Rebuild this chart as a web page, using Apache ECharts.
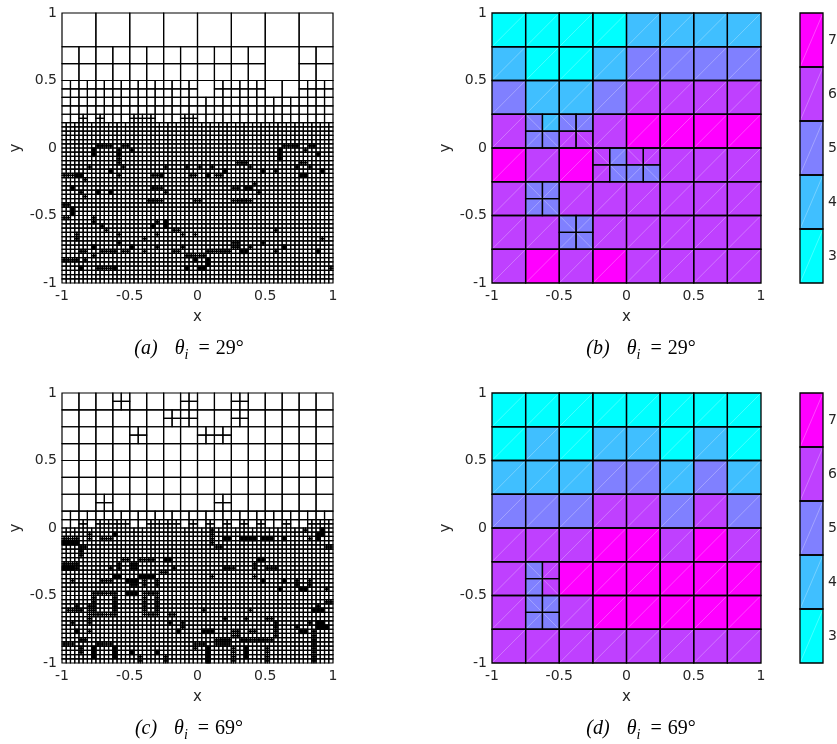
<!DOCTYPE html>
<html><head><meta charset="utf-8">
<script src="https://cdn.jsdelivr.net/npm/echarts@6/dist/echarts.min.js"></script>
<style>html,body{margin:0;padding:0;background:#fff}#c{width:837px;height:744px}</style>
</head><body><div id="c"></div>
<script>
// ---------- data ----------
const axisRange = [-1, 1];
const axisStep = 0.5;
const levels = ['3', '4', '5', '6', '7'];
const levelColors = ['#00FFFF', '#40BFFF', '#8080FF', '#BF40FF', '#FF00FF'];
const captionLetters = ['(a)', '(b)', '(c)', '(d)'];
const captionAngles = ['29°', '29°', '69°', '69°'];

// Panel (a) mesh: horizontal bands [yBottom, yTop, cellSize]
const bandsA = [[0.75, 1, 0.25], [0.5, 0.75, 0.125], [0.1875, 0.5, 0.0625], [-1, 0.1875, 0.03125]];
// merged (coarser) cells [x0, y0, size]
const mergedA = [[0.5, 0.5, 0.25], [0, 0.375, 0.125], [0.5, 0.375, 0.125], [0.625, 0.375, 0.125]];
// band cells split once [x0, y0, size]
const splitA = [[-0.875, 0.1875, 0.0625], [-0.75, 0.1875, 0.0625], [-0.5, 0.1875, 0.0625], [-0.4375, 0.1875, 0.0625],
  [-0.375, 0.1875, 0.0625], [-0.125, 0.1875, 0.0625], [-0.0625, 0.1875, 0.0625]];
// fine 1/32 cells refined once [col, row] (col 0..63 from x=-1, row from y=-1)
const fineA = [[8,32],[9,32],[10,32],[11,32],[13,28],[13,29],[13,31],[14,32],[15,32],[16,31],[6,27],[13,25],[0,25],[1,25],[2,25],[5,24],[14,27],[21,25],[22,25],[24,27],[29,27],[30,25],[31,25],[4,21],[5,20],[21,22],[22,22],[23,22],[20,19],[21,19],[22,19],[23,19],[24,21],[0,18],[1,18],[0,15],[1,15],[7,14],[7,15],[9,13],[10,12],[3,11],[3,10],[13,11],[19,10],[22,14],[22,11],[26,12],[27,12],[28,11],[31,11],[4,7],[5,7],[7,6],[9,7],[10,7],[11,7],[12,7],[13,9],[14,7],[15,7],[19,7],[22,8],[26,7],[27,7],[28,8],[29,6],[30,6],[31,6],[0,5],[1,5],[2,5],[3,5],[5,5],[8,3],[9,3],[10,3],[11,3],
  [52,32],[53,32],[54,32],[55,32],[57,31],[58,32],[59,32],[56,28],[57,28],[55,27],[58,27],[41,28],[42,28],[43,28],[32,27],[35,27],[36,25],[37,25],[44,27],[50,26],[40,22],[41,22],[45,23],[46,21],[40,19],[41,19],[42,19],[43,19],[44,19],[31,19],[32,19],[50,12],[40,8],[41,8],[40,9],[41,9],[47,9],[34,7],[35,7],[36,7],[37,7],[38,7],[39,7],[44,8],[50,7],[61,10],[32,6],[33,6],[63,3]];
// fine cells refined twice
const finerA = [[7,30],[7,31],[13,30],[11,26],[3,25],[4,25],[23,25],[2,22],[8,21],[11,21],[2,16],[2,17],[21,13],[24,13],[24,14],[7,8],[16,8],[4,3],[12,3],[29,3],[31,5],[51,29],[51,30],[51,31],[60,30],[56,25],[57,25],[61,26],[34,25],[38,26],[47,26],[43,22],[44,22],[52,8],[42,7],[43,7],[60,7],[34,4],[34,5],[32,3],[33,3]];

// Panel (c) mesh
const bandsC = [[0.125, 1, 0.125], [0, 0.125, 0.0625], [-1, 0, 0.03125]];
const mergedC = [];
const splitC = [[-0.625,0.875,0.125],[-0.125,0.875,0.125],[0.25,0.875,0.125],[-0.25,0.75,0.125],[-0.125,0.75,0.125],[0.25,0.75,0.125],
  [-0.5,0.625,0.125],[0,0.625,0.125],[0.125,0.625,0.125],[-0.75,0.125,0.125],[0.125,0.125,0.125],
  [-0.875,0,0.0625],[-0.75,0,0.0625],[-0.6875,0,0.0625],[-0.625,0,0.0625],[-0.5625,0,0.0625],[-0.375,0,0.0625],[-0.3125,0,0.0625],
  [-0.25,0,0.0625],[-0.1875,0,0.0625],[-0.0625,0,0.0625],[0.0625,0,0.0625],[0.1875,0,0.0625],[0.3125,0,0.0625],[0.4375,0,0.0625],
  [0.625,0,0.0625],[0.8125,0,0.0625],[0.875,0,0.0625],[0.9375,0,0.0625]];
const fineC = [[35,28],[35,29],[35,30],[35,31],[36,27],[37,27],[57,31],[58,29],[62,27],[63,27],[38,22],[39,22],[40,22],[45,22],[45,23],[48,22],[49,22],[50,22],[35,20],[45,20],[55,18],[55,19],[58,18],[58,19],[62,17],[62,14],[63,14],[33,12],[44,12],[60,13],[38,10],[43,10],[48,10],[49,10],[50,6],[50,7],[50,8],[50,9],[58,9],[55,8],[40,6],[40,7],[41,6],[41,7],[44,7],[45,7],[59,4],[59,5],[59,6],[59,7],[32,4],[33,4],[36,4],[37,4],[38,4],[39,4],[36,5],[37,5],[38,5],[39,5],[42,5],[43,5],[44,5],[45,5],[46,5],[47,5],[48,5],[49,5],[40,0],[40,1],[40,2],[40,3],[48,0],[48,1],[48,2],[48,3],[59,0],[59,1],[59,2],[59,3],
  [0,29],[1,29],[2,29],[3,29],[6,29],[6,30],[9,29],[10,29],[11,29],[4,27],[5,27],[4,25],[4,26],[14,24],[15,24],[18,24],[19,24],[20,24],[21,24],[0,23],[1,23],[2,23],[3,23],[3,22],[11,22],[13,22],[13,23],[16,22],[17,22],[16,23],[17,23],[23,21],[24,21],[26,22],[2,19],[9,19],[10,19],[11,19],[19,18],[19,19],[22,18],[22,19],[16,18],[17,18],
  [7,16],[8,16],[9,16],[10,16],[11,16],[12,16],[7,11],[8,11],[9,11],[10,11],[11,11],[12,11],[7,12],[7,13],[7,14],[7,15],[12,12],[12,13],[12,14],[12,15],
  [19,16],[20,16],[21,16],[22,16],[19,11],[20,11],[21,11],[22,11],[19,12],[19,13],[19,14],[19,15],[22,12],[22,13],[22,14],[22,15],
  [3,13],[1,12],[2,12],[3,12],[4,12],[6,11],[6,12],[6,13],[2,9],[6,9],[6,10],[6,7],[4,5],[5,5],[0,4],[1,4],[2,4],[8,4],[9,4],[10,4],[11,4],[4,2],[4,3],[18,0],[18,1],[24,0],[24,1],[25,11],[26,11],[25,9],[28,8],[28,9],[31,3],[31,4]];
const finerC = [[0,28],[1,28],[2,28],[3,28],[12,30],[24,24],[25,24],[0,22],[1,22],[2,22],[12,20],[13,20],[18,20],[19,20],[20,20],[21,20],[15,19],[16,19],[17,19],[15,16],[16,16],[17,16],[3,7],[7,1],[7,2],[7,3],[12,1],[12,2],[12,3],[16,2],[22,2],[27,7],[38,29],[39,29],[42,29],[43,29],[44,29],[45,29],[47,29],[48,29],[49,29],[52,29],[60,29],[60,30],[61,30],[61,31],[46,24],[47,24],[47,19],[52,19],[51,17],[56,17],[57,17],[59,12],[60,12],[61,12],[60,8],[61,8],[62,8],[60,9],[61,9],[33,7],[34,7],[35,7],[56,7],[57,7],[34,0],[34,1],[34,2],[34,3],[43,1],[43,2],[43,3]];

// Panel (b) values on 8x8 grid (rows top -> bottom, x from -1); 0 = refined cell
const gridB = [
  [3,3,3,3,4,4,4,4],
  [4,3,3,4,5,5,5,5],
  [5,4,4,5,6,6,6,6],
  [6,0,0,6,7,7,7,7],
  [7,6,7,0,0,6,6,6],
  [6,0,6,6,6,6,6,6],
  [6,6,0,6,6,6,6,6],
  [6,7,6,7,6,6,6,6]];
// refined cells [x0, y0, topLeft, topRight, bottomLeft, bottomRight]
const refinedB = [[-0.75,0,5,4,5,5],[-0.5,0,5,5,6,6],[-0.25,-0.25,6,5,6,5],[0,-0.25,6,6,5,5],[-0.75,-0.5,5,5,5,5],[-0.5,-0.75,5,5,5,5]];

// Panel (d)
const gridD = [
  [3,3,3,3,3,3,3,3],
  [3,4,3,4,4,3,4,3],
  [4,4,4,5,5,4,5,4],
  [5,5,5,6,6,5,6,5],
  [6,6,6,7,7,6,7,6],
  [6,0,7,7,7,7,7,7],
  [6,0,6,7,7,7,7,7],
  [6,6,6,6,6,6,6,6]];
const refinedD = [[-0.75,-0.5,5,6,5,6],[-0.75,-0.75,5,5,5,5]];

// ---------- builders ----------
function buildMesh(bands, merged, split, fine, finer) {
  const leaves = [];
  const eps = 1e-9;
  const key = (a, b) => a + ',' + b;
  const fineSet = new Set(fine.map(c => key(c[0], c[1])));
  const finerSet = new Set(finer.map(c => key(c[0], c[1])));
  const splitSet = new Set(split.map(c => c[0].toFixed(5) + ',' + c[1].toFixed(5) + ',' + c[2]));
  const inMerged = (x, y, s) => merged.some(m => x >= m[0] - eps && x + s <= m[0] + m[2] + eps && y >= m[1] - eps && y + s <= m[1] + m[2] + eps);
  function sub(x, y, s, d) {
    if (d <= 0) { leaves.push([x, y, s]); return; }
    const h = s / 2;
    sub(x, y, h, d - 1); sub(x + h, y, h, d - 1); sub(x, y + h, h, d - 1); sub(x + h, y + h, h, d - 1);
  }
  bands.forEach(([y0, y1, s]) => {
    const nx = Math.round(2 / s), ny = Math.round((y1 - y0) / s);
    for (let r = 0; r < ny; r++) for (let c = 0; c < nx; c++) {
      const x = -1 + c * s, y = y0 + r * s;
      if (inMerged(x, y, s)) continue;
      let d = 0;
      if (splitSet.has(x.toFixed(5) + ',' + y.toFixed(5) + ',' + s)) d = 1;
      const j = Math.round((y + 1) / s);
      if (fineSet.has(key(c, j)) && s < 0.04) d = 1;
      if (finerSet.has(key(c, j)) && s < 0.04) d = 2;
      sub(x, y, s, d);
    }
  });
  merged.forEach(m => leaves.push(m.slice()));
  return leaves;
}
function buildColored(grid, refined) {
  const items = [];
  const n = grid.length, s = 2 / n;
  grid.forEach((row, r) => row.forEach((v, c) => {
    if (v > 0) items.push([-1 + c * s, 1 - (r + 1) * s, s, v, 1]);
  }));
  refined.forEach(([x, y, tl, tr, bl, br]) => {
    const h = s / 2;
    items.push([x, y + h, h, tl, -1]);
    items.push([x + h, y + h, h, tr, 1]);
    items.push([x, y, h, bl, 1]);
    items.push([x + h, y, h, br, -1]);
  });
  return items;
}

const meshA = buildMesh(bandsA, mergedA, splitA, fineA, finerA);
const meshC = buildMesh(bandsC, mergedC, splitC, fineC, finerC);
const cellsB = buildColored(gridB, refinedB);
const cellsD = buildColored(gridD, refinedD);

// ---------- chart ----------
const chart = echarts.init(document.getElementById('c'), null, { renderer: 'canvas' });
const tickFont = { fontFamily: 'DejaVu Sans', fontSize: 14, color: '#262626' };
const nameFont = { fontFamily: 'DejaVu Sans', fontSize: 15, color: '#262626' };

const panels = [
  { left: 62, top: 13, width: 271, height: 270 },
  { left: 492, top: 13, width: 269, height: 270 },
  { left: 62, top: 393, width: 271, height: 270 },
  { left: 492, top: 393, width: 269, height: 270 }
];
const bars = [
  { left: 800, top: 13, width: 23, height: 270 },
  { left: 800, top: 393, width: 23, height: 270 }
];
const grids = panels.concat(bars).map(g => Object.assign({ containLabel: false, outerBoundsMode: 'none' }, g));

const xAxes = panels.map((p, k) => ({
  type: 'value', gridIndex: k, min: axisRange[0], max: axisRange[1], interval: axisStep,
  name: 'x', nameLocation: 'middle', nameGap: 27, nameTextStyle: nameFont,
  axisLine: { show: false }, axisTick: { show: false }, splitLine: { show: false },
  axisLabel: Object.assign({ margin: 6 }, tickFont)
})).concat(bars.map((b, k) => ({
  type: 'value', gridIndex: 4 + k, min: 0, max: 1, show: false
})));
const yAxes = panels.map((p, k) => ({
  type: 'value', gridIndex: k, min: axisRange[0], max: axisRange[1], interval: axisStep,
  name: 'y', nameLocation: 'middle', nameGap: 38, nameTextStyle: nameFont,
  axisLine: { show: false }, axisTick: { show: false }, splitLine: { show: false },
  axisLabel: Object.assign({ margin: 5 }, tickFont)
})).concat(bars.map((b, k) => ({
  type: 'category', gridIndex: 4 + k, data: levels, position: 'right',
  axisLine: { show: false }, axisTick: { show: false }, splitLine: { show: false },
  axisLabel: Object.assign({ margin: 5 }, tickFont)
})));

function meshSeries(data, idx) {
  return {
    type: 'custom', xAxisIndex: idx, yAxisIndex: idx, data: data, clip: false,
    progressive: 0, progressiveThreshold: 1e7, animation: false, silent: true,
    encode: { x: 0, y: 1 },
    renderItem: (params, api) => {
      const x = api.value(0), y = api.value(1), s = api.value(2);
      const p0 = api.coord([x, y + s]), p1 = api.coord([x + s, y]);
      return { type: 'rect', shape: { x: p0[0], y: p0[1], width: p1[0] - p0[0], height: p1[1] - p0[1] },
        style: { fill: null, stroke: '#000', lineWidth: 1.2 } };
    }
  };
}
function colorSeries(data, idx) {
  return {
    type: 'custom', xAxisIndex: idx, yAxisIndex: idx, data: data, clip: false,
    progressive: 0, animation: false, silent: true, encode: { x: 0, y: 1 },
    renderItem: (params, api) => {
      const x = api.value(0), y = api.value(1), s = api.value(2), v = api.value(3), d = api.value(4);
      const p0 = api.coord([x, y + s]), p1 = api.coord([x + s, y]);
      const shape = { x: p0[0], y: p0[1], width: p1[0] - p0[0], height: p1[1] - p0[1] };
      const color = levelColors[levels.indexOf(String(v))];
      const diag = d > 0 ? { x1: p0[0], y1: p1[1], x2: p1[0], y2: p0[1] } : { x1: p0[0], y1: p0[1], x2: p1[0], y2: p1[1] };
      return { type: 'group', children: [
        { type: 'rect', z2: 0, shape: shape, style: { fill: color } },
        { type: 'line', z2: 1, shape: diag, style: { stroke: 'rgba(255,255,255,0.35)', lineWidth: 0.8 } },
        { type: 'rect', z2: 2, shape: shape, style: { fill: null, stroke: '#000', lineWidth: 1.3 } }
      ] };
    }
  };
}
function barSeries(idx) {
  return {
    type: 'custom', xAxisIndex: idx, yAxisIndex: idx, clip: false, animation: false, silent: true,
    data: levels.map((l, k) => [0, k]), encode: { x: 0, y: 1 },
    renderItem: (params, api) => {
      const k = api.value(1);
      const c = api.coord([0, k]);
      const sz = api.size([1, 1]);
      const shape = { x: c[0], y: c[1] - sz[1] / 2, width: sz[0], height: sz[1] };
      return { type: 'group', children: [
        { type: 'rect', z2: 0, shape: shape, style: { fill: levelColors[k] } },
        { type: 'line', z2: 1, shape: { x1: shape.x, y1: shape.y + shape.height, x2: shape.x + shape.width, y2: shape.y },
          style: { stroke: 'rgba(255,255,255,0.35)', lineWidth: 0.8 } },
        { type: 'rect', z2: 2, shape: shape, style: { fill: null, stroke: '#000', lineWidth: 1.3 } }
      ] };
    }
  };
}

const captionPos = [[189, 351], [641, 351], [189, 731], [641, 731]];
const serif = 'Liberation Serif';
const graphics = captionPos.map((p, k) => ({
  type: 'text', x: p[0], y: p[1], silent: true,
  style: {
    text: '{lab|' + captionLetters[k] + '}{th|θ}{sub|i}{eq|=}{rm|' + captionAngles[k] + '}',
    align: 'center', verticalAlign: 'middle',
    rich: {
      lab: { fontFamily: serif, fontStyle: 'italic', fontSize: 20, lineHeight: 22, padding: [0, 17, 3, 0], verticalAlign: 'bottom', fill: '#000' },
      th: { fontFamily: serif, fontStyle: 'italic', fontSize: 20, lineHeight: 22, padding: [0, 0, 3, 0], verticalAlign: 'bottom', fill: '#000' },
      sub: { fontFamily: serif, fontStyle: 'italic', fontSize: 14, lineHeight: 16, padding: [0, 10, 0, 0], verticalAlign: 'bottom', fill: '#000' },
      eq: { fontFamily: serif, fontSize: 20, lineHeight: 22, padding: [0, 6, 3, 0], verticalAlign: 'bottom', fill: '#000' },
      rm: { fontFamily: serif, fontSize: 20, lineHeight: 22, padding: [0, 0, 3, 0], verticalAlign: 'bottom', fill: '#000' }
    }
  }
}));

chart.setOption({
  animation: false,
  backgroundColor: '#fff',
  grid: grids,
  xAxis: xAxes,
  yAxis: yAxes,
  series: [meshSeries(meshA, 0), colorSeries(cellsB, 1), meshSeries(meshC, 2), colorSeries(cellsD, 3), barSeries(4), barSeries(5)],
  graphic: graphics
});
</script></body></html>
